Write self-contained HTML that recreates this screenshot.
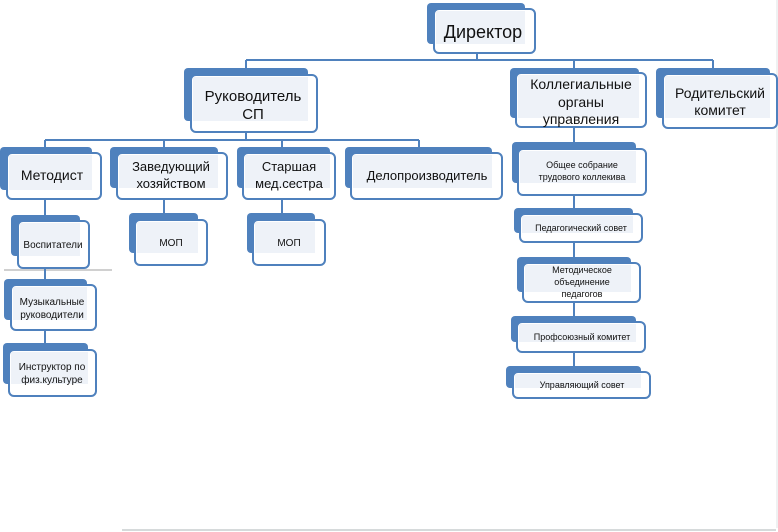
<!DOCTYPE html>
<html><head><meta charset="utf-8"><style>
html,body{margin:0;padding:0;background:#fff;}
svg{display:block;}
text{font-family:"Liberation Sans","DejaVu Sans",sans-serif;fill:#111;text-anchor:middle;}
</style></head><body>
<svg width="778" height="532" viewBox="0 0 778 532" xmlns="http://www.w3.org/2000/svg">
<rect x="0" y="0" width="778" height="532" fill="#fff"/>
<line x1="122" y1="530" x2="776" y2="530" stroke="#d6dadb" stroke-width="2"/>
<line x1="777" y1="0" x2="777" y2="528" stroke="#dfe3e4" stroke-width="1"/>
<line x1="4" y1="270" x2="112" y2="270" stroke="#d0d0d0" stroke-width="2"/>
<g stroke="#4f81bd" stroke-width="2" fill="none">
<line x1="477" y1="53" x2="477" y2="60"/>
<line x1="246" y1="60" x2="713" y2="60"/>
<line x1="246" y1="60" x2="246" y2="70"/>
<line x1="574" y1="60" x2="574" y2="70"/>
<line x1="713" y1="60" x2="713" y2="70"/>
<line x1="246" y1="132" x2="246" y2="140"/>
<line x1="45" y1="140" x2="419" y2="140"/>
<line x1="45" y1="140" x2="45" y2="149"/>
<line x1="164" y1="140" x2="164" y2="149"/>
<line x1="282" y1="140" x2="282" y2="149"/>
<line x1="419" y1="140" x2="419" y2="149"/>
<line x1="45" y1="199" x2="45" y2="390"/>
<line x1="164" y1="199" x2="164" y2="215"/>
<line x1="282" y1="199" x2="282" y2="215"/>
<line x1="574" y1="127" x2="574" y2="370"/>
</g>
<g id="nodes"></g>
<!-- nodes: back rect, light fill, white bordered box -->
<g>
<!-- Директор -->
<rect x="427" y="3" width="98" height="41" rx="4" fill="#4f81bd"/>
<rect x="434" y="9" width="101" height="44" rx="5" fill="#fff" stroke="#4f81bd" stroke-width="2"/>
<rect x="436" y="11" width="89" height="33" fill="#eef2f8"/>
<text x="483" y="38" font-size="18">Директор</text>
<!-- Руководитель -->
<rect x="184" y="68" width="124" height="53" rx="4" fill="#4f81bd"/>
<rect x="191" y="75" width="126" height="57" rx="5" fill="#fff" stroke="#4f81bd" stroke-width="2"/>
<rect x="193" y="77" width="115" height="44" fill="#eef2f8"/>
<text x="253" y="101" font-size="15">Руководитель</text>
<text x="253" y="119" font-size="15">СП</text>
<!-- Коллегиальные -->
<rect x="510" y="68" width="129" height="50" rx="4" fill="#4f81bd"/>
<rect x="516" y="73" width="130" height="54" rx="5" fill="#fff" stroke="#4f81bd" stroke-width="2"/>
<rect x="518" y="75" width="121" height="43" fill="#eef2f8"/>
<text x="581" y="89" font-size="14">Коллегиальные</text>
<text x="581" y="107" font-size="14">органы</text>
<text x="581" y="124" font-size="14">управления</text>
<!-- Родительский -->
<rect x="656" y="68" width="114" height="50" rx="4" fill="#4f81bd"/>
<rect x="663" y="74" width="114" height="54" rx="5" fill="#fff" stroke="#4f81bd" stroke-width="2"/>
<rect x="665" y="76" width="105" height="42" fill="#eef2f8"/>
<text x="720" y="98" font-size="14">Родительский</text>
<text x="720" y="115" font-size="14">комитет</text>
<!-- Методист -->
<rect x="0" y="147" width="92" height="43" rx="4" fill="#4f81bd"/>
<rect x="7" y="153" width="94" height="46" rx="5" fill="#fff" stroke="#4f81bd" stroke-width="2"/>
<rect x="9" y="155" width="83" height="35" fill="#eef2f8"/>
<text x="52" y="180" font-size="14">Методист</text>
<!-- Заведующий -->
<rect x="110" y="147" width="108" height="41" rx="4" fill="#4f81bd"/>
<rect x="117" y="153" width="110" height="46" rx="5" fill="#fff" stroke="#4f81bd" stroke-width="2"/>
<rect x="119" y="155" width="99" height="33" fill="#eef2f8"/>
<text x="171" y="171" font-size="13">Заведующий</text>
<text x="171" y="188" font-size="13">хозяйством</text>
<!-- Старшая -->
<rect x="237" y="147" width="93" height="41" rx="4" fill="#4f81bd"/>
<rect x="243" y="153" width="92" height="46" rx="5" fill="#fff" stroke="#4f81bd" stroke-width="2"/>
<rect x="245" y="155" width="85" height="33" fill="#eef2f8"/>
<text x="289" y="171" font-size="13">Старшая</text>
<text x="289" y="188" font-size="13">мед.сестра</text>
<!-- Делопроизводитель -->
<rect x="345" y="147" width="147" height="41" rx="4" fill="#4f81bd"/>
<rect x="351" y="153" width="151" height="46" rx="5" fill="#fff" stroke="#4f81bd" stroke-width="2"/>
<rect x="353" y="155" width="139" height="33" fill="#eef2f8"/>
<text x="427" y="180" font-size="13">Делопроизводитель</text>
<!-- Воспитатели -->
<rect x="11" y="215" width="69" height="41" rx="4" fill="#4f81bd"/>
<rect x="18" y="221" width="71" height="47" rx="5" fill="#fff" stroke="#4f81bd" stroke-width="2"/>
<rect x="20" y="223" width="60" height="33" fill="#eef2f8"/>
<text x="53" y="248" font-size="10">Воспитатели</text>
<!-- МОП 1 -->
<rect x="129" y="213" width="69" height="40" rx="4" fill="#4f81bd"/>
<rect x="135" y="220" width="72" height="45" rx="5" fill="#fff" stroke="#4f81bd" stroke-width="2"/>
<rect x="137" y="222" width="61" height="31" fill="#eef2f8"/>
<text x="171" y="246" font-size="10">МОП</text>
<!-- МОП 2 -->
<rect x="247" y="213" width="68" height="40" rx="4" fill="#4f81bd"/>
<rect x="253" y="220" width="72" height="45" rx="5" fill="#fff" stroke="#4f81bd" stroke-width="2"/>
<rect x="255" y="222" width="60" height="31" fill="#eef2f8"/>
<text x="289" y="246" font-size="10">МОП</text>
<!-- Музыкальные -->
<rect x="4" y="279" width="83" height="41" rx="4" fill="#4f81bd"/>
<rect x="11" y="285" width="85" height="45" rx="5" fill="#fff" stroke="#4f81bd" stroke-width="2"/>
<rect x="13" y="287" width="74" height="33" fill="#eef2f8"/>
<text x="52" y="305" font-size="10">Музыкальные</text>
<text x="52" y="318" font-size="10">руководители</text>
<!-- Инструктор -->
<rect x="3" y="343" width="85" height="41" rx="4" fill="#4f81bd"/>
<rect x="9" y="350" width="87" height="46" rx="5" fill="#fff" stroke="#4f81bd" stroke-width="2"/>
<rect x="11" y="352" width="77" height="32" fill="#eef2f8"/>
<text x="52" y="370" font-size="10">Инструктор по</text>
<text x="52" y="383" font-size="10">физ.культуре</text>
<!-- Общее собрание -->
<rect x="512" y="142" width="124" height="41" rx="4" fill="#4f81bd"/>
<rect x="518" y="149" width="128" height="46" rx="5" fill="#fff" stroke="#4f81bd" stroke-width="2"/>
<rect x="520" y="151" width="116" height="32" fill="#eef2f8"/>
<text x="582" y="168" font-size="9">Общее собрание</text>
<text x="582" y="180" font-size="9">трудового коллекива</text>
<!-- Педагогический -->
<rect x="514" y="208" width="119" height="25" rx="4" fill="#4f81bd"/>
<rect x="520" y="214" width="122" height="28" rx="5" fill="#fff" stroke="#4f81bd" stroke-width="2"/>
<rect x="522" y="216" width="111" height="17" fill="#eef2f8"/>
<text x="581" y="231" font-size="9">Педагогический совет</text>
<!-- Методическое -->
<rect x="517" y="257" width="114" height="35" rx="4" fill="#4f81bd"/>
<rect x="523" y="263" width="117" height="39" rx="5" fill="#fff" stroke="#4f81bd" stroke-width="2"/>
<rect x="525" y="265" width="106" height="27" fill="#eef2f8"/>
<text x="582" y="273" font-size="9">Методическое</text>
<text x="582" y="285" font-size="9">объединение</text>
<text x="582" y="297" font-size="9">педагогов</text>
<!-- Профсоюзный -->
<rect x="511" y="316" width="125" height="26" rx="4" fill="#4f81bd"/>
<rect x="517" y="322" width="128" height="30" rx="5" fill="#fff" stroke="#4f81bd" stroke-width="2"/>
<rect x="519" y="324" width="117" height="18" fill="#eef2f8"/>
<text x="582" y="340" font-size="9">Профсоюзный комитет</text>
<!-- Управляющий -->
<rect x="506" y="366" width="135" height="22" rx="4" fill="#4f81bd"/>
<rect x="513" y="372" width="137" height="26" rx="5" fill="#fff" stroke="#4f81bd" stroke-width="2"/>
<rect x="515" y="374" width="126" height="14" fill="#eef2f8"/>
<text x="582" y="388" font-size="9">Управляющий совет</text>
</g>
</svg>
</body></html>
